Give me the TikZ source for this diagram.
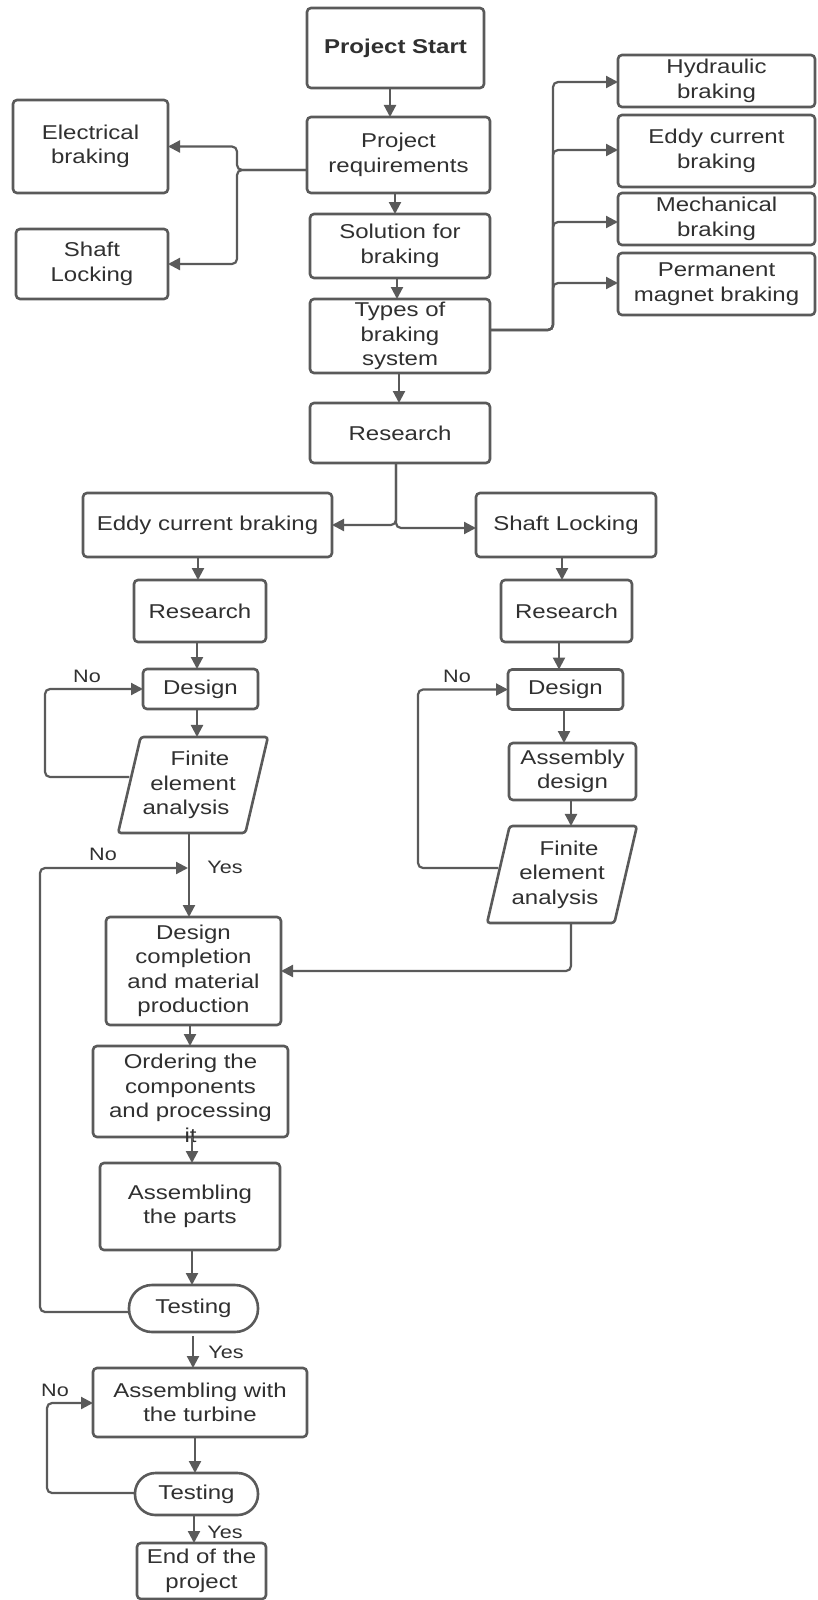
\documentclass[tikz,border=0pt]{standalone}
\usepackage{fontspec}
\setmainfont{Liberation Sans}[FakeStretch=1.2]
\usetikzlibrary{arrows.meta,shapes.geometric}
\definecolor{lin}{RGB}{90,90,90}
\definecolor{txt}{RGB}{48,48,48}
\begin{document}
\begin{tikzpicture}[x=1pt,y=-1pt,
  box/.style={draw=lin, line width=2.6pt, rounded corners=4pt, fill=white, align=center,
    text=txt, font=\fontsize{20}{24.5}\selectfont, inner sep=2pt, outer sep=0pt},
  boxtext/.style={align=center, text=txt, font=\fontsize{20}{24.5}\selectfont, inner sep=0pt},
  para/.style={box, trapezium, trapezium left angle=72.5, trapezium right angle=107.5,
    trapezium stretches=true, rounded corners=3pt},
  conn/.style={draw=lin, line width=2.2pt, rounded corners=5pt, -{Triangle[length=12pt,width=12pt]}},
  lbl/.style={text=txt, font=\fontsize{18}{22}\selectfont, inner sep=0pt}
]
\useasboundingbox (0,0) rectangle (817,1600);

% top column
\node[box, font=\fontsize{20}{24.5}\selectfont\bfseries, minimum width=177pt, minimum height=80pt] (ps) at (395.5,48) {Project Start};
\node[box, minimum width=183pt, minimum height=76pt] (pr) at (398.5,155) {Project\\requirements};
\node[box, minimum width=155pt, minimum height=93pt] (eb) at (90.5,146.5) {Electrical\\braking};
\node[box, minimum width=152pt, minimum height=70pt] (sl1) at (92,264) {Shaft\\Locking};
\node[box, minimum width=180pt, minimum height=64pt] (sb) at (400,246) {Solution for\\braking};
\node[box, minimum width=180pt, minimum height=74pt] (tb) at (400,336) {Types of\\braking\\system};

% right column
\node[box, minimum width=197pt, minimum height=52pt] (hb) at (716.5,81) {Hydraulic\\braking};
\node[box, minimum width=197pt, minimum height=72pt] (ec) at (716.5,151) {Eddy current\\braking};
\node[box, minimum width=197pt, minimum height=52pt] (mb) at (716.5,219) {Mechanical\\braking};
\node[box, minimum width=197pt, minimum height=62pt] (pm) at (716.5,284) {Permanent\\magnet braking};

\node[box, minimum width=180pt, minimum height=60pt] (rs) at (400,433) {Research};
\node[box, minimum width=249pt, minimum height=64pt] (ecb) at (207.5,525) {Eddy current braking};
\node[box, minimum width=180pt, minimum height=64pt] (slk) at (566,525) {Shaft Locking};

% left branch
\node[box, minimum width=132pt, minimum height=62pt] (rL) at (200,611) {Research};
\node[box, minimum width=115pt, minimum height=40pt] (dL) at (200.5,689) {Design};
\node[para, minimum width=142pt, minimum height=96pt] (fL) at (193,785) {\hspace*{14pt}Finite\\element\\analysis\hspace*{14pt}};

% right branch
\node[box, minimum width=131pt, minimum height=62pt] (rR) at (566.5,611) {Research};
\node[box, minimum width=115pt, minimum height=40pt] (dR) at (565.5,689.5) {Design};
\node[box, minimum width=127pt, minimum height=57pt] (asd) at (572.5,771.5) {Assembly\\design};
\node[para, minimum width=142pt, minimum height=97pt] (fR) at (562,874.5) {\hspace*{14pt}Finite\\element\\analysis\hspace*{14pt}};

% lower column
\node[box, minimum width=175pt, minimum height=108pt] (dc) at (193.5,971) {Design\\completion\\and material\\production};
\node[box, minimum width=195pt, minimum height=91pt,
  label={[boxtext, name=ordt, yshift=-7pt]center:Ordering the\\components\\and processing\\it}] (ord) at (190.5,1091.5) {};
\node[box, minimum width=180pt, minimum height=87pt] (asm) at (190,1206.5) {Assembling\\the parts};
\node[box, rounded corners=23pt, minimum width=129pt, minimum height=47pt] (t1) at (193.5,1308.5) {Testing};
\node[box, minimum width=214pt, minimum height=69pt] (at) at (200,1402.5) {Assembling with\\the turbine};
\node[box, rounded corners=20.5pt, minimum width=123pt, minimum height=42pt] (t2) at (196.5,1494) {Testing};
\node[box, minimum width=129pt, minimum height=56pt] (eop) at (201.5,1571) {End of the\\project};

% connectors: main column
\draw[conn] (ps.south -| 390,0) -- (pr.north -| 390,0);
\draw[conn] (pr.south -| 395,0) -- (sb.north -| 395,0);
\draw[conn] (sb.south -| 397,0) -- (tb.north -| 397,0);
\draw[conn] (tb.south -| 399,0) -- (rs.north -| 399,0);
\draw[conn] (pr.west |- 0,170) -- (237,170) |- (eb.east);
\draw[conn] (pr.west |- 0,170) -- (237,170) |- (sl1.east);
\draw[conn] (tb.east |- 0,330) -- (553,330) |- (hb.west |- 0,82);
\draw[conn] (tb.east |- 0,330) -- (553,330) |- (ec.west |- 0,150);
\draw[conn] (tb.east |- 0,330) -- (553,330) |- (mb.west |- 0,222);
\draw[conn] (tb.east |- 0,330) -- (553,330) |- (pm.west |- 0,283);
\draw[conn] (rs.south -| 396,0) |- (ecb.east);
\draw[conn] (rs.south -| 396,0) |- (slk.west |- 0,528);

% left branch
\draw[conn] (ecb.south -| 198,0) -- (rL.north -| 198,0);
\draw[conn] (rL.south -| 197,0) -- (dL.north -| 197,0);
\draw[conn] (dL.south -| 197,0) -- (fL.north -| 197,0);
\draw[conn] (fL.west |- 0,777) -- (45,777) |- (dL.west);
\draw[conn] (fL.south -| 189,0) -- (dc.north -| 189,0);

% right branch
\draw[conn] (slk.south -| 562,0) -- (rR.north -| 562,0);
\draw[conn] (rR.south -| 559,0) -- (dR.north -| 559,0);
\draw[conn] (dR.south -| 564,0) -- (asd.north -| 564,0);
\draw[conn] (asd.south -| 571,0) -- (fR.north -| 571,0);
\draw[conn] (fR.west |- 0,868) -- (418,868) |- (dR.west);
\draw[conn] (fR.south -| 571,0) |- (dc.east);

% lower column
\draw[conn] (dc.south -| 190,0) -- (ord.north -| 190,0);
\draw[conn] (ord.south -| 192,0) -- (asm.north -| 192,0);
\draw[conn] (asm.south -| 192,0) -- (t1.north -| 192,0);
\coordinate (jn) at (188,868);
\draw[conn] (t1.west |- 0,1312) -- (40,1312) |- (jn);
\draw[conn, shorten <=4pt] (t1.south -| 193,0) -- (at.north -| 193,0);
\draw[conn] (at.south -| 195,0) -- (t2.north -| 195,0);
\draw[conn] (t2.west |- 0,1493) -- (47,1493) |- (at.west |- 0,1403);
\draw[conn] (t2.south -| 194,0) -- (eop.north -| 194,0);

% labels
\node[lbl] (no1) at (87,676) {No};
\node[lbl] (no2) at (457,676) {No};
\node[lbl] (no3) at (103,854) {No};
\node[lbl] (yes1) at (225,867) {Yes};
\node[lbl] (yes2) at (226,1352) {Yes};
\node[lbl] (no4) at (55,1390) {No};
\node[lbl] (yes3) at (225,1532) {Yes};
\end{tikzpicture}
\end{document}
